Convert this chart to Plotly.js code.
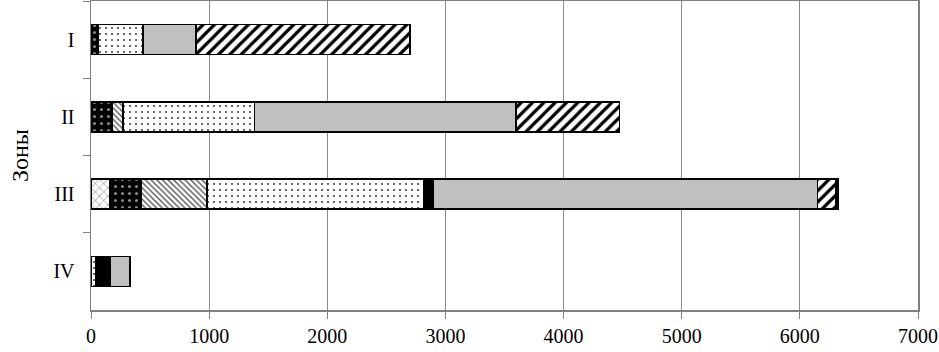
<!DOCTYPE html>
<html>
<head>
<meta charset="utf-8">
<script src="https://cdn.plot.ly/plotly-3.0.1.min.js"></script>
<style>html,body{margin:0;padding:0;background:#fff;}#chart{width:939px;height:352px;}</style>
</head>
<body>
<div id="chart"></div>
<script>
const zones = ['I', 'II', 'III', 'IV'];
const seriesChecker   = [0, 0, 155, 0];
const seriesBlackDots = [60, 177, 270, 0];
const seriesFineHatch = [0, 93, 555, 0];
const seriesFineDots  = [380, 1115, 1833, 40];
const seriesBlack     = [0, 0, 84, 120];
const seriesGray      = [447, 2213, 3252, 170];
const seriesWideHatch = [1813, 877, 151, 0];
const seriesTail      = [0, 0, 25, 0];
const xTicks = [0, 1000, 2000, 3000, 4000, 5000, 6000, 7000];

const line = {color: '#000', width: 1.5};
function tr(vals, color, pattern) {
  const m = {color: color, line: line};
  if (pattern) m.pattern = pattern;
  return {type: 'bar', orientation: 'h', y: zones, x: vals, marker: m, hoverinfo: 'x'};
}
const data = [
  tr(seriesChecker, '#fff', {shape: 'x', fgcolor: '#555', bgcolor: '#fff', size: 6, solidity: 0.15, fillmode: 'replace'}),
  tr(seriesBlackDots, '#000', {shape: '.', fgcolor: '#888', bgcolor: '#000', size: 7, solidity: 0.15, fillmode: 'replace'}),
  tr(seriesFineHatch, '#fff', {shape: '\\', fgcolor: '#555', bgcolor: '#fff', size: 4, solidity: 0.35, fillmode: 'replace'}),
  tr(seriesFineDots, '#fff', {shape: '.', fgcolor: '#444', bgcolor: '#fff', size: 6, solidity: 0.1, fillmode: 'replace'}),
  tr(seriesBlack, '#000'),
  tr(seriesGray, '#c0c0c0'),
  tr(seriesWideHatch, '#fff', {shape: '/', fgcolor: '#000', bgcolor: '#fff', size: 8, solidity: 0.4, fillmode: 'replace'}),
  tr(seriesTail, '#000')
];
const font = {family: 'Liberation Serif, Times New Roman, serif', size: 20, color: '#000'};
const layout = {
  width: 939, height: 352,
  margin: {l: 91, r: 21, t: 1, b: 42, pad: 0},
  barmode: 'stack', bargap: 0.61,
  showlegend: false,
  paper_bgcolor: '#fff', plot_bgcolor: '#fff',
  font: font,
  xaxis: {
    range: [0, 7000], tickvals: xTicks, ticktext: xTicks.map(String),
    showgrid: true, gridcolor: '#8c8c8c', gridwidth: 1,
    showline: true, linecolor: '#808080', linewidth: 1.5, mirror: true,
    ticks: 'outside', ticklen: 7, tickcolor: '#808080',
    zeroline: false, tickfont: font, ticklabelstandoff: 0,
    ticklabeloverflow: 'allow'
  },
  yaxis: {
    type: 'category', categoryorder: 'array', categoryarray: zones, autorange: 'reversed',
    showline: true, linecolor: '#808080', linewidth: 1.5, mirror: true,
    ticks: 'outside', tickson: 'boundaries', ticklen: 7, tickcolor: '#808080',
    showgrid: false, tickfont: font, ticklabelstandoff: 11,
    title: {text: 'Зоны', font: {family: 'Liberation Serif, Times New Roman, serif', size: 24, color: '#000'}, standoff: 18}
  }
};
Plotly.newPlot('chart', data, layout, {displayModeBar: false, staticPlot: true});
</script>
</body>
</html>
